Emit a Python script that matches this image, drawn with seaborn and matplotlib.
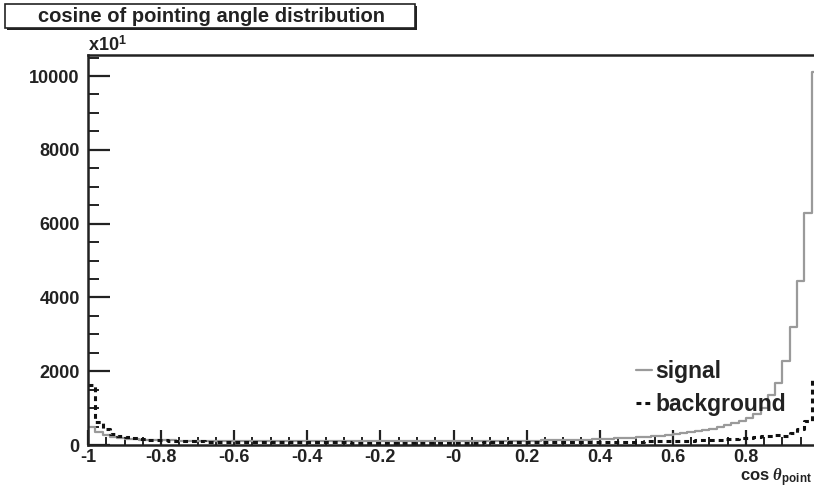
import numpy as np
import pandas as pd
import matplotlib
matplotlib.use("Agg")
import matplotlib.pyplot as plt
from matplotlib.lines import Line2D
from matplotlib.patches import Rectangle
from matplotlib.ticker import MultipleLocator, FixedLocator, FixedFormatter
import seaborn as sns

# ---------------- data (100 bins of width 0.02 from -1 to 1) ----------------
bin_edges = [round(-1 + 0.02 * i, 2) for i in range(101)]

signal = [
    490, 340, 260, 215, 185, 165, 152, 142, 135, 130,
    125, 122, 119, 116, 114, 112, 110, 108, 107, 106,
    105, 104, 103, 102, 101, 100, 100, 99, 99, 98,
    98, 97, 97, 97, 96, 96, 96, 96, 96, 96,
    96, 96, 97, 97, 97, 98, 98, 99, 99, 100,
    101, 102, 103, 104, 105, 107, 108, 110, 112, 114,
    116, 119, 122, 125, 129, 133, 138, 143, 149, 156,
    163, 171, 180, 190, 200, 212, 225, 240, 256, 274,
    295, 318, 343, 372, 405, 442, 485, 535, 590, 650,
    740, 850, 1000, 1350, 1690, 2270, 3200, 4440, 6290, 10100,
]

background = [
    1625, 620, 430, 310, 250, 210, 180, 160, 145, 135,
    125, 118, 112, 106, 101, 97, 93, 90, 87, 84,
    82, 80, 78, 76, 75, 74, 73, 72, 71, 70,
    70, 69, 69, 68, 68, 68, 67, 67, 67, 67,
    67, 67, 67, 67, 67, 67, 67, 67, 67, 67,
    67, 67, 67, 67, 68, 68, 68, 69, 69, 70,
    70, 71, 72, 73, 74, 75, 76, 78, 79, 80,
    82, 84, 86, 88, 90, 93, 96, 99, 102, 106,
    110, 115, 120, 126, 133, 140, 148, 158, 170, 185,
    200, 215, 235, 255, 275, 250, 320, 430, 650, 1760,
]

series_labels = ["signal", "background"]
x_tick_values = [-1, -0.8, -0.6, -0.4, -0.2, 0, 0.2, 0.4, 0.6, 0.8]
x_tick_labels = ["-1", "-0.8", "-0.6", "-0.4", "-0.2", "-0", "0.2", "0.4", "0.6", "0.8"]
y_tick_values = [0, 2000, 4000, 6000, 8000, 10000]
y_tick_labels = ["0", "2000", "4000", "6000", "8000", "10000"]
title_text = "cosine of pointing angle distribution"
exponent_text = r"x10$^{\mathbf{1}}$"
xlabel_text = r"$\mathbf{cos}\ \theta_{\mathbf{point}}$"

# ---------------- build table ----------------
centers = [(bin_edges[i] + bin_edges[i + 1]) / 2 for i in range(100)]
df = pd.DataFrame({
    "x": centers * 2,
    "w": signal + background,
    "series": ["signal"] * 100 + ["background"] * 100,
})

# ---------------- style ----------------
sns.set_theme(style="white")
plt.rcParams["font.family"] = ["Liberation Sans", "DejaVu Sans"]
plt.rcParams["font.weight"] = "bold"
plt.rcParams["mathtext.fontset"] = "custom"
plt.rcParams["mathtext.rm"] = "Liberation Sans"
plt.rcParams["mathtext.bf"] = "Liberation Sans:bold"
plt.rcParams["mathtext.it"] = "Liberation Serif:italic"

W, H = 814, 491
fig = plt.figure(figsize=(W / 100, H / 100), dpi=100)
fig.patch.set_facecolor("white")

left_px, right_px, top_px, bottom_px = 88, 819, 55, 445
ax = fig.add_axes([left_px / W, 1 - bottom_px / H,
                   (right_px - left_px) / W, (bottom_px - top_px) / H])
ax.set_facecolor("white")

sig_color = "#9a9a9a"
bkg_color = "#111111"

sns.histplot(data=df[df.series == "signal"], x="x", weights="w", bins=bin_edges,
             element="step", fill=False, color=sig_color, linewidth=1.6, ax=ax)
sns.histplot(data=df[df.series == "background"], x="x", weights="w", bins=bin_edges,
             element="step", fill=False, color=bkg_color, linewidth=2.2,
             linestyle=(0, (1.6, 1.3)), ax=ax)

ax.set_xlim(-1, 1)
ax.set_ylim(0, 10570)
ax.set_xlabel("")
ax.set_ylabel("")

# ticks (ROOT style, inside)
ax.xaxis.set_major_locator(FixedLocator(x_tick_values))
ax.xaxis.set_major_formatter(FixedFormatter(x_tick_labels))
ax.xaxis.set_minor_locator(MultipleLocator(0.05))
ax.yaxis.set_major_locator(FixedLocator(y_tick_values))
ax.yaxis.set_major_formatter(FixedFormatter(y_tick_labels))
ax.yaxis.set_minor_locator(MultipleLocator(500))
ax.tick_params(axis="x", which="major", direction="in", length=11, width=1.6,
               colors="#222222", labelsize=13, pad=3, bottom=True)
ax.tick_params(axis="x", which="minor", direction="in", length=6, width=1.4,
               colors="#222222", bottom=True)
ax.tick_params(axis="y", which="major", direction="in", length=16, width=1.6,
               colors="#222222", labelsize=13, pad=6, left=True)
ax.tick_params(axis="y", which="minor", direction="in", length=8, width=1.4,
               colors="#222222", left=True)
for lab in ax.get_xticklabels() + ax.get_yticklabels():
    lab.set_fontweight("bold")
    lab.set_color("#222222")

for side in ["left", "bottom", "top"]:
    ax.spines[side].set_visible(True)
    ax.spines[side].set_color("#222222")
    ax.spines[side].set_linewidth(1.8)
ax.spines["right"].set_visible(False)

# legend
handles = [Line2D([], [], color=sig_color, linewidth=1.6),
           Line2D([], [], color=bkg_color, linewidth=2.2, linestyle=(0, (1.6, 1.3)))]
ax.legend(handles, series_labels, loc="upper left",
          bbox_to_anchor=(636 / W, 1 - 360 / H), bbox_transform=fig.transFigure,
          frameon=False, prop={"weight": "bold", "size": 16.5},
          handlelength=0.7, handletextpad=0.15, labelspacing=0.45,
          borderpad=0, borderaxespad=0, labelcolor="#222222")

# title box with shadow
bx0, by0, bx1, by1 = 5, 4, 415, 28
fig.patches.append(Rectangle(((bx0 + 2) / W, 1 - (by1 + 2) / H), (bx1 - bx0) / W,
                             (by1 - by0) / H, transform=fig.transFigure,
                             facecolor="#222222", edgecolor="none", zorder=1))
fig.patches.append(Rectangle((bx0 / W, 1 - by1 / H), (bx1 - bx0) / W,
                             (by1 - by0) / H, transform=fig.transFigure,
                             facecolor="white", edgecolor="#222222", linewidth=1.2, zorder=2))
fig.text((bx0 + bx1) / 2 / W + 1 / W, 1 - (by0 + by1) / 2 / H, title_text,
         ha="center", va="center", fontsize=14.5, fontweight="bold", color="#222222", zorder=3)

# exponent label
fig.text(88 / W, 1 - 51 / H, exponent_text, ha="left", va="baseline",
         fontsize=13, fontweight="bold", color="#222222")

# x-axis title
fig.text(812 / W, 1 - 482 / H, xlabel_text, ha="right", va="baseline",
         fontsize=12, color="#222222")

fig.savefig("out.png", dpi=100, facecolor="white")
